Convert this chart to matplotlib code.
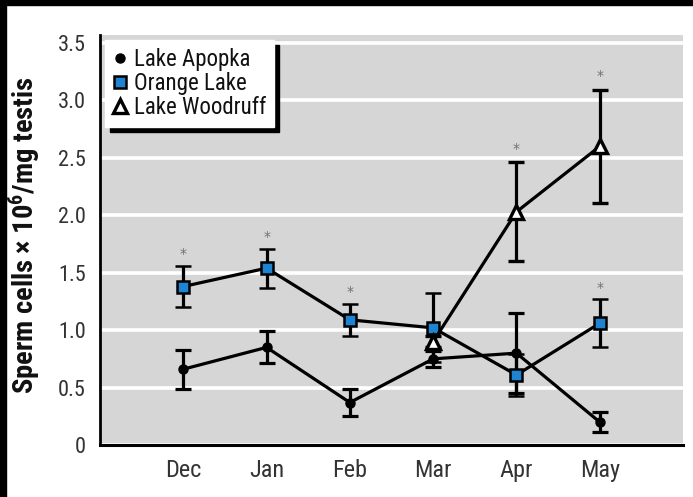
import matplotlib
matplotlib.use("Agg")
import matplotlib.pyplot as plt
from matplotlib.lines import Line2D
from matplotlib.patches import Rectangle
import numpy as np

# sperm counts per month (x 10^6 / mg testis), mean and SE
months = ["Dec", "Jan", "Feb", "Mar", "Apr", "May"]

apopka = [0.66, 0.85, 0.37, 0.75, 0.80, 0.20]
apopka_err = [0.17, 0.14, 0.12, 0.07, 0.35, 0.09]

orange = [1.38, 1.54, 1.09, 1.02, 0.61, 1.06]
orange_err = [0.18, 0.17, 0.14, 0.30, 0.18, 0.21]

# Lake Woodruff only sampled from March on
wood_months = ["Mar", "Apr", "May"]
woodruff = [0.90, 2.03, 2.60]
woodruff_err = [0.05, 0.43, 0.49]

# months flagged as significant
stars_orange = ["Dec", "Jan", "Feb", "May"]
stars_wood = ["Apr", "May"]

yticks = [0, 0.5, 1.0, 1.5, 2.0, 2.5, 3.0, 3.5]
ytick_labels = ["0", "0.5", "1.0", "1.5", "2.0", "2.5", "3.0", "3.5"]

FONT = ["Roboto Condensed", "Liberation Sans Narrow", "Liberation Sans", "DejaVu Sans"]
plt.rcParams["font.family"] = FONT
plt.rcParams["mathtext.fontset"] = "custom"
plt.rcParams["mathtext.rm"] = "Roboto Condensed:bold"
plt.rcParams["mathtext.it"] = "Roboto Condensed:bold"
plt.rcParams["mathtext.bf"] = "Roboto Condensed:bold"

BLUE = "#1e84d2"
GRAY_BG = "#d6d6d6"
TXT = "#333333"

fig = plt.figure(figsize=(6.93, 4.97), dpi=100)
fig.patch.set_facecolor("white")
ax = fig.add_axes([100 / 693, 52 / 497, 583 / 693, 410 / 497])
ax.set_facecolor(GRAY_BG)

x = np.arange(len(months))
xw = [months.index(m) for m in wood_months]

lw = 2.3
common = dict(color="black", lw=lw, elinewidth=lw, capsize=5.5, capthick=lw)

ax.errorbar(x, apopka, yerr=apopka_err, marker="o", ms=6.5, mfc="black",
            mec="black", zorder=4, **common)
ax.errorbar(x, orange, yerr=orange_err, marker="s", ms=9, mfc=BLUE,
            mec="black", mew=1.8, zorder=5, **common)
ax.errorbar(xw, woodruff, yerr=woodruff_err, marker="^", ms=10, mfc="white",
            mec="black", mew=2.4, zorder=6, **common)

for m in stars_orange:
    i = months.index(m)
    ax.text(i, orange[i] + orange_err[i] + 0.1, "*", ha="center", va="center",
            fontsize=10, color="#707070", family=["DejaVu Sans"])
for m in stars_wood:
    i = wood_months.index(m)
    ax.text(xw[i], woodruff[i] + woodruff_err[i] + 0.12, "*", ha="center",
            va="center", fontsize=10, color="#707070", family=["DejaVu Sans"])

ax.set_xlim(-1, 6)
ax.set_ylim(0, 3.57)
ax.set_xticks(x)
ax.set_xticklabels(months)
ax.set_yticks(yticks)
ax.set_yticklabels(ytick_labels)
ax.tick_params(length=0, labelcolor=TXT)
ax.tick_params(axis="x", labelsize=17.5, pad=10)
ax.tick_params(axis="y", labelsize=16, pad=10)

ax.grid(axis="y", color="white", lw=2.6)
ax.set_axisbelow(True)
for s in ["top", "right"]:
    ax.spines[s].set_visible(False)
ax.spines["left"].set_linewidth(2)
ax.spines["bottom"].set_linewidth(2.2)

handles = [
    Line2D([], [], ls="none", marker="o", ms=6.5, mfc="black", mec="black"),
    Line2D([], [], ls="none", marker="s", ms=9, mfc=BLUE, mec="black", mew=1.8),
    Line2D([], [], ls="none", marker="^", ms=10, mfc="white", mec="black", mew=2.4),
]
leg = ax.legend(handles, ["Lake Apopka", "Orange Lake", "Lake Woodruff"],
                loc="upper left", bbox_to_anchor=(0.009, 0.988),
                fontsize=16.5, frameon=True, fancybox=False, borderaxespad=0,
                handlelength=0.6, handletextpad=0.3, labelspacing=0.05,
                borderpad=0.35,
                shadow={"color": "black", "alpha": 1, "ox": 3.6, "oy": -3.6})
leg.get_frame().set_facecolor("white")
leg.get_frame().set_edgecolor("white")
leg.get_frame().set_alpha(1)
for t in leg.get_texts():
    t.set_color("#111111")

fig.text(25 / 693, 1 - 235 / 497, r"Sperm cells $\times$ 10$^{6}$/mg testis",
         rotation=90, ha="center", va="center", fontsize=20.5,
         fontweight="bold", color="#111111")

# black frame strips along the top and left edges
fig.patches.append(Rectangle((0, 1 - 5 / 497), 1, 5 / 497, transform=fig.transFigure,
                             color="black", zorder=10))
fig.patches.append(Rectangle((0, 0), 6 / 693, 1, transform=fig.transFigure,
                             color="black", zorder=10))

fig.savefig("out.png", dpi=100)
